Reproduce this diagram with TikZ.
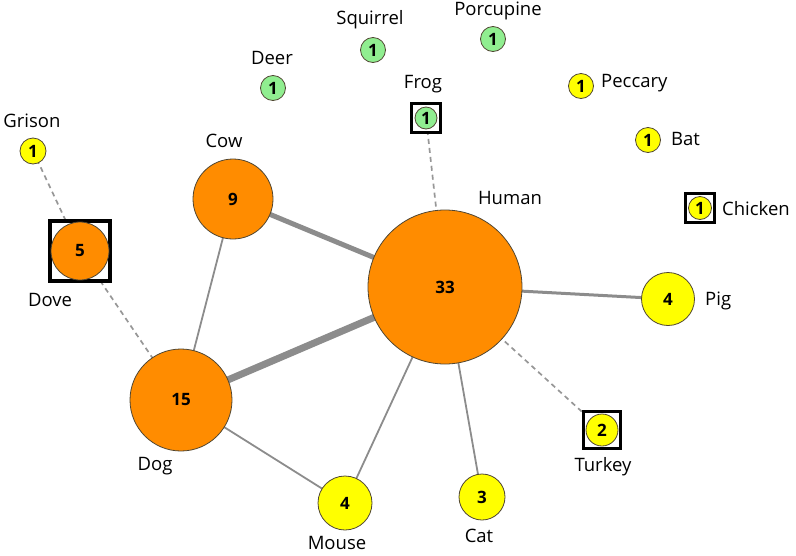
\documentclass[tikz,border=0pt]{standalone}
\usepackage{fontspec}
\setmainfont{Open Sans}
\pgfdeclarelayer{bg}
\pgfsetlayers{bg,main}
\begin{document}
\begin{tikzpicture}[x=1pt,y=-1pt,
  nd/.style={circle,draw=nodeedge,line width=0.8pt,inner sep=0pt,font=\fontsize{17}{19}\selectfont\bfseries},
  org/.style={nd,fill=orgfill},
  yel/.style={nd,fill=yelfill},
  grn/.style={nd,fill=grnfill},
  lab/.style={font=\fontsize{18.5}{21}\selectfont,inner sep=0pt},
  edge/.style={draw=edgegray,line cap=round},
  dedge/.style={draw=edgegray!90,line width=1.7pt,dash pattern=on 5pt off 4pt},
  sq/.style={draw=black,line width=3.5pt,fill=white}
]
\definecolor{orgfill}{RGB}{255,140,0}
\definecolor{yelfill}{RGB}{255,255,0}
\definecolor{grnfill}{RGB}{144,238,144}
\definecolor{nodeedge}{RGB}{80,70,50}
\definecolor{edgegray}{RGB}{140,140,140}
\useasboundingbox (0,0) rectangle (796,555);
% coordinates of node centers
\coordinate (cH) at (445,287);
\coordinate (cCow) at (233,199);
\coordinate (cDog) at (181,400);
\coordinate (cDove) at (80,251);
\coordinate (cGri) at (33,151);
\coordinate (cFrog) at (426,118);
\coordinate (cPig) at (668,299);
\coordinate (cTur) at (602,430);
\coordinate (cMou) at (345,503);
\coordinate (cCat) at (482,497);
\coordinate (cChk) at (700,208);
% squares
\node[sq,minimum size=60pt,inner sep=0pt] (sqDove) at (cDove) {};
\node[sq,minimum size=29pt,inner sep=0pt,line width=3pt] (sqFrog) at (cFrog) {};
\node[sq,minimum size=37pt,inner sep=0pt] (sqTur) at (cTur) {};
\node[sq,minimum size=29pt,inner sep=0pt,line width=3pt] (sqChk) at (cChk) {};
% nodes
\node[org,minimum size=154pt] (human) at (cH) {33};
\node[org,minimum size=80pt] (cow) at (cCow) {9};
\node[org,minimum size=102pt] (dog) at (cDog) {15};
\node[org,minimum size=58pt] (dove) at (cDove) {5};
\node[yel,minimum size=26pt] (grison) at (cGri) {1};
\node[grn,minimum size=25pt] (deer) at (273,88) {1};
\node[grn,minimum size=25pt] (squirrel) at (373,50) {1};
\node[grn,minimum size=25pt] (porcupine) at (493,39) {1};
\node[grn,minimum size=22pt] (frog) at (cFrog) {1};
\node[yel,minimum size=25pt] (peccary) at (581,86) {1};
\node[yel,minimum size=25pt] (bat) at (648,140) {1};
\node[yel,minimum size=23pt] (chicken) at (cChk) {1};
\node[yel,minimum size=53pt] (pig) at (cPig) {4};
\node[yel,minimum size=32pt] (turkey) at (cTur) {2};
\node[yel,minimum size=54pt] (mouse) at (cMou) {4};
\node[yel,minimum size=46pt] (cat) at (cCat) {3};
% edges (behind nodes)
\begin{pgfonlayer}{bg}
\draw[edge,line width=7pt] (human.center) -- (dog.center);
\draw[edge,line width=5pt] (human.center) -- (cow.center);
\draw[edge,line width=3pt] (human.center) -- (pig.center);
\draw[edge,line width=1.8pt] (human.center) -- (mouse.center);
\draw[edge,line width=1.8pt] (human.center) -- (cat.center);
\draw[edge,line width=1.8pt] (cow.center) -- (dog.center);
\draw[edge,line width=1.8pt] (dog.center) -- (mouse.center);
\draw[dedge] (human.center) -- (frog.center);
\draw[dedge] (human.center) -- (turkey.center);
\draw[dedge] (grison.center) -- (dove.center);
\draw[dedge] (dove.center) -- (dog.center);
\end{pgfonlayer}
% labels
\node[lab] at (510,198) {Human};
\node[lab] at (224,141) {Cow};
\node[lab] at (155,466) {Dog};
\node[lab] at (50,300) {Dove};
\node[lab] at (32,121) {Grison};
\node[lab] at (272,58) {Deer};
\node[lab] at (370,20) {Squirrel};
\node[lab] at (498,11) {Porcupine};
\node[lab] at (423,84) {Frog};
\node[lab,anchor=west] at (601,83) {Peccary};
\node[lab,anchor=west] at (671,139) {Bat};
\node[lab,anchor=west] at (722,209) {Chicken};
\node[lab,anchor=west] at (705,301) {Pig};
\node[lab] at (603,467) {Turkey};
\node[lab] at (337,543) {Mouse};
\node[lab] at (479,536) {Cat};
\end{tikzpicture}
\end{document}
